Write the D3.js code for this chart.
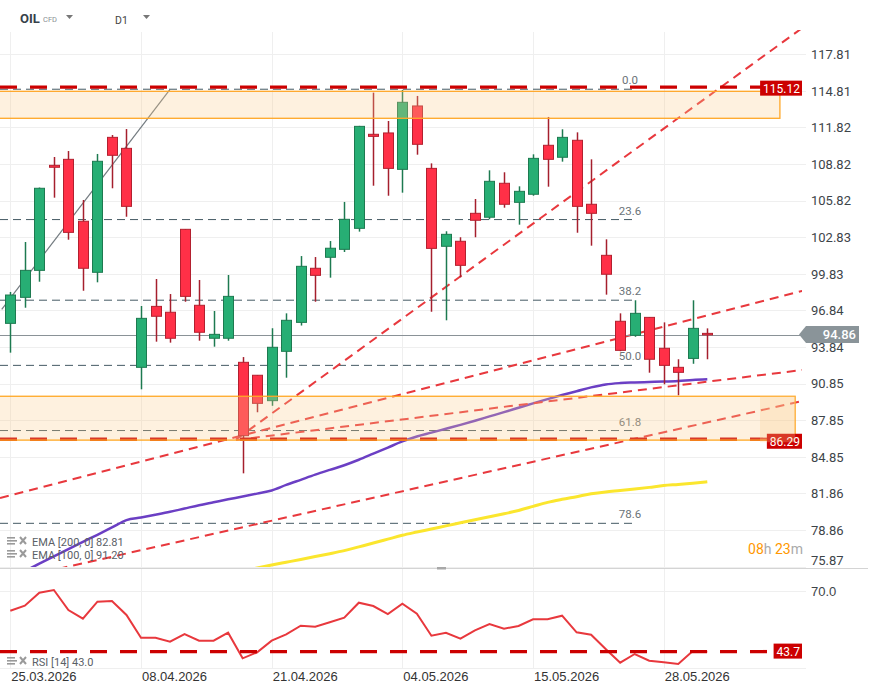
<!DOCTYPE html>
<html>
<head>
<meta charset="utf-8">
<script src="https://cdn.jsdelivr.net/npm/d3@7"></script>
<style>
body { margin: 0; background: #fff; }
svg { display: block; font-family: Roboto, "Noto Sans", sans-serif; }
</style>
</head>
<body>
<div id="viz"></div>
<script>
// Daily bars (OIL CFD, D1).
var dates = ["25.03.2026","26.03.2026","27.03.2026","30.03.2026","31.03.2026","01.04.2026","02.04.2026","06.04.2026","07.04.2026","08.04.2026",
	"09.04.2026","10.04.2026","13.04.2026","14.04.2026","15.04.2026","16.04.2026","17.04.2026","20.04.2026","21.04.2026",
	"22.04.2026","23.04.2026","24.04.2026","27.04.2026","28.04.2026","29.04.2026","30.04.2026","01.05.2026","04.05.2026",
	"05.05.2026","06.05.2026","07.05.2026","08.05.2026","11.05.2026","12.05.2026","13.05.2026","14.05.2026","15.05.2026",
	"18.05.2026","19.05.2026","20.05.2026","21.05.2026","22.05.2026","25.05.2026","26.05.2026","27.05.2026","28.05.2026",
	"29.05.2026","01.06.2026","02.06.2026"];
var open  = [95.78,97.91,100.12,108.72,109.21,104.14,99.96,111.01,110.11,92.18,97.17,96.69,103.48,97.26,94.56,94.56,92.59,91.53,89.45,93.49,95.86,100.29,101.19,101.84,103.56,111.26,111.37,108.39,113.58,108.47,102.09,102.50,104.79,104.47,107.25,105.69,106.35,110.36,109.38,110.77,105.53,101.35,95.95,94.80,96.27,93.74,92.18,92.91,94.96];
var high  = [98.35,102.44,106.90,109.40,109.89,105.88,109.65,111.20,111.69,97.20,99.41,98.18,103.50,99.33,96.79,99.74,93.02,91.55,95.38,96.60,101.29,101.21,102.52,105.72,111.95,114.67,112.35,114.89,114.40,108.88,103.32,102.83,105.96,108.31,108.15,107.00,109.62,112.68,111.67,111.42,109.21,102.66,96.60,97.67,96.30,95.86,92.84,97.67,95.37];
var low   = [93.38,97.06,99.19,106.07,102.63,98.45,99.14,106.84,104.51,90.38,94.28,94.20,97.55,94.36,93.87,94.36,83.50,88.50,89.03,91.33,95.60,97.55,99.52,101.62,103.29,107.05,106.23,106.48,109.59,96.73,96.03,99.55,102.83,104.30,105.25,103.86,106.23,106.97,109.02,103.20,102.14,98.13,93.50,94.68,91.74,90.79,89.89,92.47,92.84];
var close = [98.10,100.12,106.84,108.56,103.23,100.29,109.05,109.54,105.36,96.19,96.36,94.56,97.99,95.05,94.88,97.99,86.58,89.23,93.82,96.03,100.45,99.71,101.93,104.30,111.91,111.09,108.47,113.88,110.44,101.92,103.07,100.53,104.22,107.41,105.53,106.59,109.29,109.21,111.01,105.36,104.79,99.80,93.57,96.60,92.84,92.34,91.77,95.37,94.86];

// EMA 100 (purple) and EMA 200 (yellow).
var ema100 = [74.93,75.50,76.10,76.70,77.30,77.89,78.47,79.07,79.67,79.88,80.11,80.35,80.62,80.89,81.13,81.37,81.60,81.84,82.10,82.55,82.97,83.39,83.78,84.16,84.61,85.11,85.61,86.11,86.52,86.83,87.15,87.47,87.81,88.16,88.51,88.87,89.23,89.58,89.91,90.22,90.54,90.78,90.89,90.94,90.98,91.01,91.06,91.15,91.20];
var ema200 = [null,null,null,null,null,null,null,null,null,null,null,null,null,null,null,null,75.50,75.75,75.99,76.22,76.45,76.69,76.92,77.17,77.48,77.79,78.11,78.43,78.69,78.94,79.20,79.45,79.70,79.95,80.19,80.46,80.79,81.12,81.37,81.59,81.82,81.98,82.09,82.21,82.35,82.50,82.59,82.69,82.81];

// RSI 14.
var rsi = [61.23,63.46,69.24,70.45,61.54,57.67,65.24,65.55,59.32,49.22,49.22,47.44,50.86,47.88,47.88,51.44,40.05,42.72,47.88,50.73,54.56,54.11,56.07,58.12,64.79,63.32,59.76,64.35,59.90,50.11,51.44,48.77,52.51,55.31,53.22,54.42,57.41,57.41,59.01,51.62,50.55,44.19,38.09,41.96,38.98,38.27,37.56,43.30,43.00];

// Axis ticks.
var priceTicks = [117.81,114.81,111.82,108.82,105.82,102.83,99.83,96.84,93.84,90.85,87.85,84.85,81.86,78.86,75.87];
var dateTicks = [0,9,18,27,36,45];
var rsiTicks = [70];

// Drawings: levels, zones, fibonacci, trend lines (bar index, price).
var levels = [115.12, 86.29];
var rsiLevel = 43.7;
var lastPrice = 94.86;
var zones = [[112.57,114.78,53.0],[86.22,89.81,54.05]];
var fibHigh = 114.95, fibLow = 69.73;
var fibLevels = [0,23.6,38.2,50,61.8,78.6];
var trends = [
	[[15.54,86.27],[54.53,119.96]],
	[[-0.71,81.48],[54.53,98.43]],
	[[15.54,86.23],[54.53,91.96]],
	[[-0.71,74.60],[54.53,89.42]]
];
var grayTrend = [[-0.59,96.93],[11.0,114.94]];

var W = 871, H = 694;
var plotR = 802, gridR = 806;

var x = d3.scaleLinear().domain([0, 48]).range([10.3, 707.3]);
var y = d3.scaleLinear().domain([117.81, 78.86]).range([54.3, 530]);
var yr = d3.scaleLinear().domain([70, 43.3]).range([591, 651]);

var svg = d3.select("#viz")
	.append("svg")
	.attr("width", W)
	.attr("height", H);

var defs = svg.append("defs");
defs.append("clipPath").attr("id", "clipMain")
	.append("rect").attr("x", 0).attr("y", 30).attr("width", plotR).attr("height", 537);
defs.append("clipPath").attr("id", "clipRsi")
	.append("rect").attr("x", 0).attr("y", 569).attr("width", plotR).attr("height", 99);

// Header.
svg.append("text").attr("x", 20).attr("y", 23).text("OIL")
	.style("font-weight", 700).style("font-size", "13px").attr("fill", "#37414a");
svg.append("text").attr("x", 43).attr("y", 22).text("CFD")
	.style("font-size", "7.5px").attr("fill", "#8a8f94");
svg.append("path").attr("d", "M66,15L73,15L69.5,19Z").attr("fill", "#777");
svg.append("text").attr("x", 115).attr("y", 24).text("D1")
	.style("font-size", "10.5px").attr("fill", "#444");
svg.append("path").attr("d", "M143,15L150,15L146.5,19Z").attr("fill", "#777");

// Grid.
var grid = svg.append("g");
grid.selectAll("line.h").data(priceTicks).enter().append("line")
	.attr("x1", 0).attr("x2", gridR)
	.attr("y1", function(d) { return Math.round(y(d)) + 0.5; })
	.attr("y2", function(d) { return Math.round(y(d)) + 0.5; })
	.style("stroke", "#efefef");
grid.selectAll("line.v").data(dateTicks).enter().append("line")
	.attr("x1", function(d) { return Math.round(x(d)) + 0.5; })
	.attr("x2", function(d) { return Math.round(x(d)) + 0.5; })
	.attr("y1", 32).attr("y2", 668)
	.style("stroke", "#efefef");
grid.selectAll("line.r").data(rsiTicks.concat([35.73])).enter().append("line")
	.attr("x1", 0).attr("x2", gridR)
	.attr("y1", function(d) { return Math.round(yr(d)) + 0.5; })
	.attr("y2", function(d) { return Math.round(yr(d)) + 0.5; })
	.style("stroke", "#efefef");

var main = svg.append("g").attr("clip-path", "url(#clipMain)");

// Fibonacci.
fibLevels.forEach(function(l) {
	var p = fibHigh - (fibHigh - fibLow) * l / 100;
	main.append("line")
		.attr("x1", 0).attr("x2", 635)
		.attr("y1", y(p)).attr("y2", y(p))
		.style("stroke", "#455a64").style("stroke-width", 1)
		.style("stroke-dasharray", "8,5");
	main.append("text")
		.attr("x", 630).attr("y", y(p) - 5)
		.attr("text-anchor", "middle")
		.style("font-size", "11.5px").attr("fill", "#6b7378")
		.text(d3.format(".1f")(l));
});

// EMA lines.
var emaLine = d3.line()
	.defined(function(d) { return d != null; })
	.x(function(d, i) { return x(i); })
	.y(function(d) { return y(d); })
	.curve(d3.curveMonotoneX);
main.append("path").attr("d", emaLine(ema200))
	.style("fill", "none").style("stroke", "#fbe62e").style("stroke-width", 3);
main.append("path").attr("d", emaLine(ema100))
	.style("fill", "none").style("stroke", "#6b3fc4").style("stroke-width", 2.5);

// Trend lines.
main.append("line")
	.attr("x1", x(grayTrend[0][0])).attr("y1", y(grayTrend[0][1]))
	.attr("x2", x(grayTrend[1][0])).attr("y2", y(grayTrend[1][1]))
	.style("stroke", "#737b80").style("stroke-width", 1.2);
trends.forEach(function(t) {
	main.append("line")
		.attr("x1", x(t[0][0])).attr("y1", y(t[0][1]))
		.attr("x2", x(t[1][0])).attr("y2", y(t[1][1]))
		.style("stroke", "#e8383d").style("stroke-width", 2)
		.style("stroke-dasharray", "9,6");
});

// Last price line.
main.append("line")
	.attr("x1", 0).attr("x2", plotR)
	.attr("y1", Math.round(y(lastPrice)) + 0.5).attr("y2", Math.round(y(lastPrice)) + 0.5)
	.style("stroke", "#8a9297").style("stroke-width", 1);

// Candles.
var bars = main.selectAll("g.bar").data(close).enter().append("g");
bars.append("line")
	.attr("x1", function(d, i) { return Math.round(x(i)) + 0.5; })
	.attr("x2", function(d, i) { return Math.round(x(i)) + 0.5; })
	.attr("y1", function(d, i) { return y(high[i]); })
	.attr("y2", function(d, i) { return y(low[i]); })
	.style("stroke", function(d, i) { return close[i] >= open[i] ? "#1d7a50" : "#a51f2d"; })
	.style("stroke-width", 1.5);
bars.append("rect")
	.attr("x", function(d, i) { return Math.round(x(i)) - 4.5; })
	.attr("width", 10)
	.attr("y", function(d, i) { return y(Math.max(open[i], close[i])); })
	.attr("height", function(d, i) { return Math.max(1.5, Math.abs(y(open[i]) - y(close[i]))); })
	.style("fill", function(d, i) { return close[i] >= open[i] ? "#27ae74" : "#ff3047"; })
	.style("stroke", function(d, i) { return close[i] >= open[i] ? "#1d7a50" : "#b3202f"; })
	.style("stroke-width", 1);

// Horizontal levels.
levels.forEach(function(l) {
	main.append("line")
		.attr("x1", 0).attr("x2", 768)
		.attr("y1", y(l)).attr("y2", y(l))
		.style("stroke", "#cc0000").style("stroke-width", 3.3)
		.style("stroke-dasharray", "17,13");
});

// Zones (drawn over everything, semi-transparent).
zones.forEach(function(z) {
	main.append("rect")
		.attr("x", -2).attr("width", x(z[2]) + 2)
		.attr("y", y(z[1])).attr("height", y(z[0]) - y(z[1]))
		.style("fill", "rgba(252,205,140,0.28)")
		.style("stroke", "#ffa726").style("stroke-width", 1.3);
});

// Level labels.
function redLabel(val, yy, txt) {
	var g = svg.append("g");
	var t = g.append("text").attr("x", plotR - 2).attr("y", yy + 4.5)
		.attr("text-anchor", "end").style("font-size", "12px").attr("fill", "#fff").text(txt);
	var w = t.node().getComputedTextLength();
	g.insert("rect", "text").attr("x", plotR - w - 5).attr("y", yy - 7.5)
		.attr("width", w + 5).attr("height", 15).style("fill", "#cc0000");
	return g;
}
redLabel(levels[0], y(levels[0]) + 1, "115.12");
var lab2 = redLabel(levels[1], y(levels[1]) + 2, "86.29");
// zone overlaps the lower label
lab2.append("rect").attr("x", 760).attr("y", y(zones[1][1])).attr("width", x(zones[1][2]) - 760)
	.attr("height", y(levels[1]) + 2 - y(zones[1][1]) + 1).style("fill", "rgba(252,205,140,0.28)");

// Price axis.
var yAxis = svg.append("g").attr("transform", "translate(811,0)")
	.call(d3.axisRight(y).tickValues(priceTicks).tickSize(0).tickPadding(0)
		.tickFormat(d3.format(".2f")));
yAxis.select(".domain").remove();
yAxis.selectAll("text").style("font-size", "13px").attr("fill", "#3d4449")
	.style("font-family", "Roboto, sans-serif");
yAxis.selectAll(".tick").filter(function(d) { return d === 75.87; })
	.select("text").attr("y", -6);

// Last price tag.
var py = y(lastPrice);
svg.append("path")
	.attr("d", "M799," + py + "L806," + (py - 8.5) + "L859," + (py - 8.5) + "L859," + (py + 8.5) + "L806," + (py + 8.5) + "Z")
	.style("fill", "#8a9499");
svg.append("text").attr("x", 856).attr("y", py + 4.5).attr("text-anchor", "end")
	.style("font-size", "13px").style("font-weight", 500).attr("fill", "#fff").text(d3.format(".2f")(lastPrice));

// Timer.
var tm = svg.append("text").attr("x", 803).attr("y", 554).attr("text-anchor", "end").style("font-size", "14px");
tm.append("tspan").attr("fill", "#ff9800").text("08");
tm.append("tspan").attr("fill", "#aaa").text("h ");
tm.append("tspan").attr("fill", "#ff9800").text("23");
tm.append("tspan").attr("fill", "#aaa").text("m");

// Legend items.
function legend(yy, txt) {
	var g = svg.append("g").attr("transform", "translate(0," + yy + ")");
	g.append("rect").attr("x", 7).attr("y", -7).attr("width", 8).attr("height", 1.6).style("fill", "#9a9a9a");
	g.append("rect").attr("x", 7).attr("y", -4).attr("width", 10).attr("height", 1.6).style("fill", "#9a9a9a");
	g.append("rect").attr("x", 7).attr("y", -1).attr("width", 8).attr("height", 1.6).style("fill", "#9a9a9a");
	g.append("path").attr("d", "M20,-7L26,0M26,-7L20,0").style("stroke", "#9a9a9a").style("stroke-width", 2);
	g.append("text").attr("x", 32).attr("y", 1.5).style("font-size", "11px").attr("fill", "#5a6066").text(txt);
}
legend(544, "EMA [200, 0] 82.81");
legend(557, "EMA [100, 0] 91.20");
legend(664, "RSI [14] 43.0");

// Panel separator.
svg.append("line").attr("x1", 0).attr("x2", 868).attr("y1", 568.5).attr("y2", 568.5)
	.style("stroke", "#d4d4d4");
svg.append("rect").attr("x", 437).attr("y", 567).attr("width", 9).attr("height", 2.5).style("fill", "#a8a8a8");

// RSI panel.
var rp = svg.append("g").attr("clip-path", "url(#clipRsi)");
rp.append("path")
	.attr("d", d3.line().x(function(d, i) { return x(i); }).y(function(d) { return yr(d); })(rsi))
	.style("fill", "none").style("stroke", "#e8383d").style("stroke-width", 2);
rp.append("line").attr("x1", 0).attr("x2", 772)
	.attr("y1", yr(rsiLevel) + 1.5).attr("y2", yr(rsiLevel) + 1.5)
	.style("stroke", "#cc0000").style("stroke-width", 3.3).style("stroke-dasharray", "17,13");
redLabel(rsiLevel, yr(rsiLevel) + 1, d3.format(".1f")(rsiLevel));
var rAxis = svg.append("g").attr("transform", "translate(811,0)")
	.call(d3.axisRight(yr).tickValues(rsiTicks).tickSize(0).tickPadding(0).tickFormat(d3.format(".1f")));
rAxis.select(".domain").remove();
rAxis.selectAll("text").style("font-size", "13px").attr("fill", "#3d4449");

// Date axis.
var xAxis = svg.append("g").attr("transform", "translate(0,668)")
	.call(d3.axisBottom(x).tickValues(dateTicks).tickSize(0).tickPadding(4)
		.tickFormat(function(i) { return dates[i]; }));
xAxis.select(".domain").remove();
xAxis.selectAll("text").attr("text-anchor", "start").attr("x", 0.5)
	.style("font-size", "13px").attr("fill", "#333");
</script>
</body>
</html>
